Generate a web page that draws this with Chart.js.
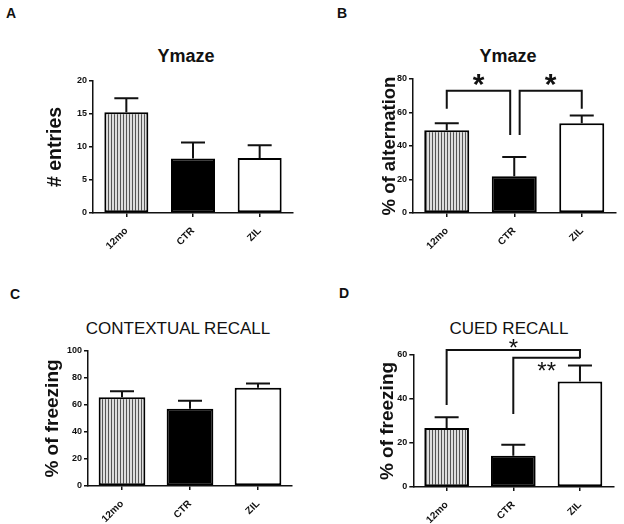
<!DOCTYPE html>
<html>
<head>
<meta charset="utf-8">
<script src="https://cdn.jsdelivr.net/npm/chart.js@4.4.1/dist/chart.umd.min.js"></script>
<style>
  html, body { margin: 0; padding: 0; background: #fff; }
  #wrap { position: relative; width: 624px; height: 524px; overflow: hidden; font-family: Arial, "Liberation Sans", sans-serif; color: #111; }
  canvas { position: absolute; }
  .letter { position: absolute; font-weight: bold; font-size: 14px; line-height: 14px; }
  .title { position: absolute; transform: translateX(-50%); white-space: nowrap; }
</style>
</head>
<body>
<div id="wrap">
  <div class="letter" style="left:6px; top:6px;">A</div>
  <div class="letter" style="left:337px; top:6px;">B</div>
  <div class="letter" style="left:10px; top:287px;">C</div>
  <div class="letter" style="left:339px; top:286px;">D</div>

  <div class="title" style="left:186px; top:47px; font-size:18px; line-height:18px; font-weight:bold;">Ymaze</div>
  <div class="title" style="left:508px; top:47px; font-size:18px; line-height:18px; font-weight:bold;">Ymaze</div>
  <div class="title" style="left:178px; top:320px; font-size:17px; line-height:17px;">CONTEXTUAL RECALL</div>
  <div class="title" style="left:509px; top:320px; font-size:17px; line-height:17px;">CUED RECALL</div>

  <canvas id="chartA" width="312" height="262" style="left:0; top:0;"></canvas>
  <canvas id="chartB" width="312" height="262" style="left:312px; top:0;"></canvas>
  <canvas id="chartC" width="312" height="262" style="left:0; top:262px;"></canvas>
  <canvas id="chartD" width="312" height="262" style="left:312px; top:262px;"></canvas>
</div>
<script>
// groups
const categories = ['12mo', 'CTR', 'ZIL'];

// A - Ymaze entries
const entriesMean = [15.25, 8.26, 8.35];
const entriesErr = [2.15, 2.44, 1.93];
const entriesTicks = [0, 5, 10, 15, 20];

// B - Ymaze alternation
const alternationMean = [49.4, 22.0, 53.6];
const alternationErr = [4.2, 11.4, 4.6];
const alternationTicks = [0, 20, 40, 60, 80];
const alternationBrackets = [
    { from: 0, to: 0.94, fromY: 62.2, toY: 46.6, top: 73, text: '*' },
    { from: 1.08, to: 2, fromY: 46.6, toY: 62.2, top: 73, text: '*' }
];

// C - contextual recall
const contextualMean = [65.7, 57.3, 72.8];
const contextualErr = [4.4, 5.9, 3.2];
const contextualTicks = [0, 20, 40, 60, 80, 100];

// D - cued recall
const cuedMean = [26.8, 14.2, 47.9];
const cuedErr = [4.9, 5.0, 7.3];
const cuedTicks = [0, 20, 40, 60];
const cuedBrackets = [
    { from: 0, to: 2, fromY: 37.3, toY: 58.5, top: 62.3, text: '*' },
    { from: 1, to: 2, fromY: 33.2, toY: 58.8, top: 58.8, text: '**' }
];

const INK = '#111';
const FONT = 'Arial, "Liberation Sans", sans-serif';
const W = 312, H = 262;

// vertical hatch for the 12mo bars
const hatch = (() => {
    const c = document.createElement('canvas');
    c.width = 3; c.height = 4;
    const g = c.getContext('2d');
    g.fillStyle = '#dedede'; g.fillRect(0, 0, 3, 4);
    g.fillStyle = '#555'; g.fillRect(0, 0, 1, 4);
    return g.createPattern(c, 'repeat');
})();

const errorBars = {
    id: 'errorBars',
    afterDatasetsDraw(chart, args, opts) {
        const meta = chart.getDatasetMeta(0);
        const y = chart.scales.y;
        const means = chart.data.datasets[0].data;
        const c = chart.ctx;
        c.save();
        c.strokeStyle = INK;
        c.lineWidth = 2;
        meta.data.forEach((bar, i) => {
            const top = y.getPixelForValue(means[i]);
            const end = y.getPixelForValue(means[i] + opts.errors[i]);
            c.beginPath();
            c.moveTo(bar.x, top);
            c.lineTo(bar.x, end);
            c.moveTo(bar.x - 12, end);
            c.lineTo(bar.x + 12, end);
            c.stroke();
        });
        c.restore();
    }
};

const brackets = {
    id: 'brackets',
    afterDatasetsDraw(chart, args, opts) {
        if (!opts.items || !opts.items.length) return;
        const x = chart.scales.x, y = chart.scales.y;
        const c = chart.ctx;
        c.save();
        c.strokeStyle = INK;
        c.fillStyle = INK;
        c.lineWidth = 2;
        opts.items.forEach((b, i) => {
            const x1 = x.getPixelForValue(b.from), x2 = x.getPixelForValue(b.to);
            const yt = y.getPixelForValue(b.top);
            c.beginPath();
            c.moveTo(x1, y.getPixelForValue(b.fromY));
            c.lineTo(x1, yt);
            c.lineTo(x2, yt);
            c.lineTo(x2, y.getPixelForValue(b.toY));
            c.stroke();

            const st = opts.labels[i];
            c.font = st.font;
            c.textAlign = 'center';
            c.textBaseline = 'alphabetic';
            const m = c.measureText(b.text);
            const half = (m.actualBoundingBoxAscent + m.actualBoundingBoxDescent) / 2;
            const center = st.below ? yt + st.gap + half : yt - st.gap - half;
            const base = center + (m.actualBoundingBoxAscent - m.actualBoundingBoxDescent) / 2;
            c.fillText(b.text, (x1 + x2) / 2, base);
        });
        c.restore();
    }
};

function buildPanel(id, p) {
    const ctx = document.getElementById(id).getContext('2d');
    return new Chart(ctx, {
        type: 'bar',
        data: {
            labels: categories,
            datasets: [{
                data: p.means,
                backgroundColor: [hatch, '#000', '#fff'],
                borderColor: '#000',
                borderWidth: 2,
                borderSkipped: false,
                barPercentage: p.barPct,
                categoryPercentage: 1
            }]
        },
        options: {
            responsive: false,
            animation: false,
            events: [],
            layout: { padding: { left: 0, top: p.area.top, right: W - p.area.right, bottom: 0 } },
            plugins: {
                legend: { display: false },
                tooltip: { enabled: false },
                errorBars: { errors: p.errors },
                brackets: { items: p.brackets || [], labels: p.labels || [] }
            },
            scales: {
                x: {
                    offset: true,
                    grid: { offset: false, drawOnChartArea: false, tickLength: 4, color: INK, lineWidth: 1.5 },
                    border: { color: INK, width: 1.5 },
                    ticks: { autoSkip: false, minRotation: 45, maxRotation: 45, padding: 8, color: INK,
                             font: { family: FONT, size: 10, weight: 'bold' } },
                    afterFit: s => { s.height = H - p.area.bottom; }
                },
                y: {
                    min: 0,
                    max: p.ticks[p.ticks.length - 1],
                    afterBuildTicks: s => { s.ticks = p.ticks.map(v => ({ value: v })); },
                    grid: { drawOnChartArea: false, tickLength: 4, color: INK, lineWidth: 1.5 },
                    border: { color: INK, width: 1.5 },
                    ticks: { padding: 2, color: INK, font: { family: FONT, size: 9, weight: 'bold' } },
                    title: {
                        display: true, text: p.yTitle, color: INK,
                        font: { family: FONT, size: p.yTitleSize, weight: 'bold' },
                        padding: { top: p.yTitleX - p.yTitleSize * 0.6, bottom: 0 }
                    },
                    afterFit: s => { s.width = p.area.left; }
                }
            }
        },
        plugins: [errorBars, brackets]
    });
}

buildPanel('chartA', {
    means: entriesMean, errors: entriesErr, ticks: entriesTicks,
    yTitle: '# entries', yTitleSize: 19.5, yTitleX: 56,
    area: { left: 93, top: 81, right: 293, bottom: 213 }, barPct: 0.66
});

buildPanel('chartB', {
    means: alternationMean, errors: alternationErr, ticks: alternationTicks,
    yTitle: '% of alternation', yTitleSize: 18.5, yTitleX: 78,
    area: { left: 101, top: 79, right: 303.5, bottom: 213 }, barPct: 0.667,
    brackets: alternationBrackets,
    labels: [
        { font: 'bold 30px ' + FONT, gap: 4.5, below: false },
        { font: 'bold 30px ' + FONT, gap: 4.5, below: false }
    ]
});

buildPanel('chartC', {
    means: contextualMean, errors: contextualErr, ticks: contextualTicks,
    yTitle: '% of freezing', yTitleSize: 19, yTitleX: 53,
    area: { left: 88, top: 89, right: 292, bottom: 224 }, barPct: 0.687
});

buildPanel('chartD', {
    means: cuedMean, errors: cuedErr, ticks: cuedTicks,
    yTitle: '% of freezing', yTitleSize: 19, yTitleX: 76,
    area: { left: 101.3, top: 93, right: 301.3, bottom: 225 }, barPct: 0.67,
    brackets: cuedBrackets,
    labels: [
        { font: '24px ' + FONT, gap: 1.5, below: false },
        { font: '24px ' + FONT, gap: 4.5, below: true }
    ]
});
</script>
</body>
</html>
